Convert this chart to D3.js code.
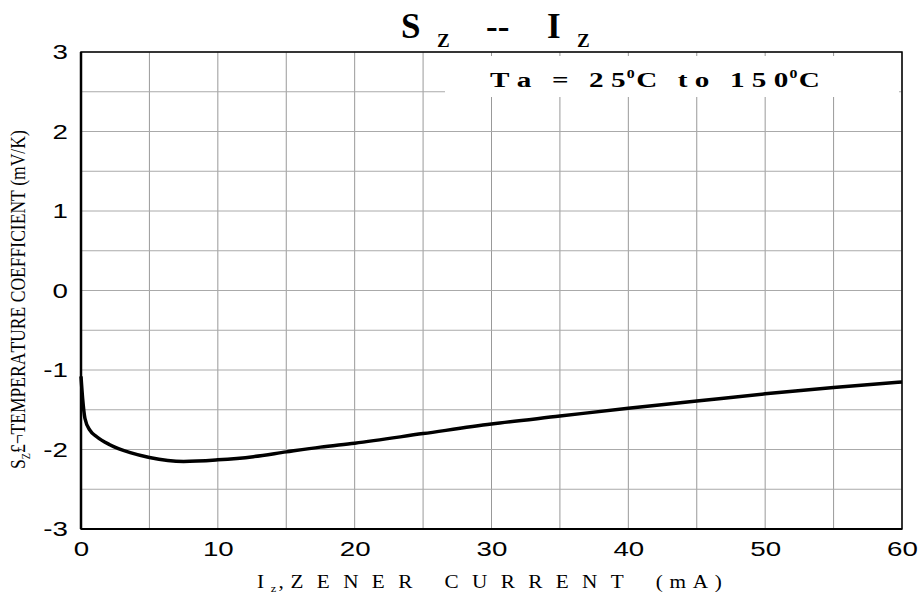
<!DOCTYPE html>
<html>
<head>
<meta charset="utf-8">
<script src="https://cdn.jsdelivr.net/npm/d3@7"></script>
<style>
  body { margin: 0; background: #fff; }
  svg { display: block; }
  text { font-kerning: none; }
</style>
</head>
<body>
<script>
// Sz -- Iz chart

const width = 921;
const height = 594;
const margin = {top: 52, right: 19, bottom: 65, left: 81};

// data
const current = [0, 0.12, 0.29, 0.66, 1.15, 2.1, 3.6, 5, 7.5, 10, 12.6, 15, 17.5, 20, 25, 30, 35, 40, 45, 50, 55, 60];
const coef    = [-1.08, -1.36, -1.61, -1.76, -1.84, -1.94, -2.04, -2.10, -2.15, -2.13, -2.09, -2.03, -1.97, -1.92, -1.80, -1.68, -1.58, -1.48, -1.39, -1.30, -1.22, -1.15];
const xTicks = [0, 10, 20, 30, 40, 50, 60];
const yTicks = [3, 2, 1, 0, -1, -2, -3];
const xGrid = d3.range(0, 61, 5);
const yGrid = d3.range(-3, 3.01, 0.5);

const svg = d3.select('body').append('svg')
  .attr('width', width)
  .attr('height', height);

// stretch a text horizontally so it spans a given width starting at x0
function fitX(sel, x0, w) {
  const b = sel.node().getBBox();
  const k = w / b.width;
  sel.attr('transform', 'translate(' + x0 + ',0) scale(' + k + ',1) translate(' + (-b.x) + ',0)');
}

// scales
const x = d3.scaleLinear().domain([0, 60]).range([margin.left, width - margin.right]);
const y = d3.scaleLinear().domain([-3, 3]).range([height - margin.bottom, margin.top]);

// grid
svg.append('g')
  .selectAll('line')
  .data(xGrid)
  .join('line')
  .attr('x1', d => x(d)).attr('x2', d => x(d))
  .attr('y1', y(3)).attr('y2', y(-3))
  .attr('stroke', '#999').attr('stroke-width', 1);

svg.append('g')
  .selectAll('line')
  .data(yGrid)
  .join('line')
  .attr('x1', x(0)).attr('x2', x(60))
  .attr('y1', d => y(d)).attr('y2', d => y(d))
  .attr('stroke', '#aaa').attr('stroke-width', 1);

// white box behind the condition text
svg.append('rect')
  .attr('x', 445).attr('y', y(3) + 4)
  .attr('width', x(60) - 448).attr('height', 41)
  .attr('fill', '#fff');

// frame
svg.append('rect')
  .attr('x', x(0)).attr('y', y(3))
  .attr('width', x(60) - x(0)).attr('height', y(-3) - y(3))
  .attr('fill', 'none').attr('stroke', '#000').attr('stroke-width', 1.5);
svg.append('line')
  .attr('x1', x(0)).attr('x2', x(0)).attr('y1', y(3)).attr('y2', y(-3))
  .attr('stroke', '#000').attr('stroke-width', 2.5);
svg.append('line')
  .attr('x1', x(0)).attr('x2', x(60)).attr('y1', y(-3)).attr('y2', y(-3))
  .attr('stroke', '#000').attr('stroke-width', 2);

// axes (labels only)
const sans = '"Liberation Sans", Arial, sans-serif';
const fmt = d => String(d);

const xAxis = d3.axisBottom(x).tickValues(xTicks).tickFormat(fmt).tickSize(0).tickPadding(12);
svg.append('g')
  .attr('transform', 'translate(0,' + y(-3) + ')')
  .call(xAxis)
  .call(g => g.select('.domain').remove())
  .call(g => g.attr('font-family', sans).attr('font-size', 21))
  .selectAll('text')
  .attr('fill', '#000')
  .attr('transform', 'scale(1.32,1)');

const yAxis = d3.axisLeft(y).tickValues(yTicks).tickFormat(fmt).tickSize(0).tickPadding(10);
svg.append('g')
  .attr('transform', 'translate(' + x(0) + ',0)')
  .call(yAxis)
  .call(g => g.select('.domain').remove())
  .call(g => g.attr('font-family', sans).attr('font-size', 21))
  .selectAll('text')
  .attr('fill', '#000')
  .attr('transform', 'scale(1.32,1)');

// curve
const line = d3.line()
  .x((d, i) => x(current[i]))
  .y(d => y(d))
  .curve(d3.curveMonotoneX);

svg.append('path')
  .attr('d', line(coef))
  .attr('fill', 'none')
  .attr('stroke', '#000')
  .attr('stroke-width', 3.5)
  .attr('stroke-linejoin', 'round');

// title
const serif = '"Liberation Serif", "Times New Roman", serif';
const title = svg.append('text')
  .attr('font-family', serif).attr('font-weight', 'bold').attr('fill', '#000');
title.append('tspan').attr('x', 401).attr('y', 38).attr('font-size', 35).text('S');
title.append('tspan').attr('x', 437).attr('y', 47).attr('font-size', 19).text('Z');
title.append('tspan').attr('x', 486).attr('y', 38).attr('font-size', 35).text('--');
title.append('tspan').attr('x', 547).attr('y', 38).attr('font-size', 35).text('I');
title.append('tspan').attr('x', 577).attr('y', 47).attr('font-size', 19).text('Z');

// condition text
const cond = svg.append('text')
  .attr('y', 87)
  .attr('font-family', serif).attr('font-weight', 'bold')
  .attr('font-size', 22).attr('letter-spacing', 5.5).attr('word-spacing', -1).attr('fill', '#000');
cond.append('tspan').text('Ta = 2');
cond.append('tspan').attr('letter-spacing', 1).text('5');
cond.append('tspan').attr('dy', -9).attr('font-size', 12).attr('letter-spacing', 1).text('0');
cond.append('tspan').attr('dy', 9).text('C to 15');
cond.append('tspan').attr('letter-spacing', 1).text('0');
cond.append('tspan').attr('dy', -9).attr('font-size', 12).attr('letter-spacing', 1).text('0');
cond.append('tspan').attr('dy', 9).attr('letter-spacing', 0).text('C');
fitX(cond, 490, 330);

// x label
const xl = svg.append('text')
  .attr('y', 588)
  .attr('font-family', serif).attr('font-size', 19)
  .attr('letter-spacing', 12).attr('fill', '#000');
xl.append('tspan').attr('letter-spacing', 6).text('I');
xl.append('tspan').attr('dy', 4).attr('font-size', 11).attr('letter-spacing', 2).text('z');
xl.append('tspan').attr('dy', -4).attr('letter-spacing', 6).text(',');
xl.append('tspan').text('ZENER CURRENT ');
xl.append('tspan').attr('letter-spacing', 6).text('(mA');
xl.append('tspan').attr('letter-spacing', 0).text(')');
fitX(xl, 257, 465);

// y label, rotated, condensed along its length
const yl = svg.append('text')
  .attr('font-family', serif).attr('font-size', 21).attr('fill', '#000');
yl.append('tspan').text('S');
yl.append('tspan').attr('dy', 5).attr('font-size', 12).text('Z');
yl.append('tspan').attr('dy', -5).text('£¬TEMPERATURE COEFFICIENT (mV/K)');
const yb = yl.node().getBBox();
yl.attr('transform', 'translate(25,469) rotate(-90) scale(' + (339 / yb.width) + ',1)');
</script>
</body>
</html>
